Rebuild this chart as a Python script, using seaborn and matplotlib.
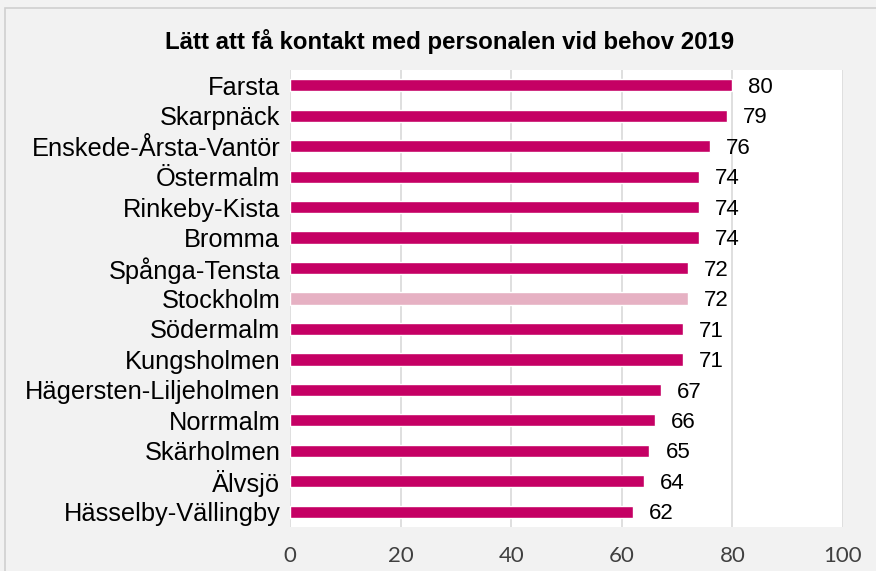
import matplotlib
matplotlib.use('Agg')
import matplotlib.pyplot as plt
import seaborn as sns
import pandas as pd
from matplotlib.patches import Rectangle

districts = ['Farsta', 'Skarpnäck', 'Enskede-Årsta-Vantör', 'Östermalm', 'Rinkeby-Kista',
             'Bromma', 'Spånga-Tensta', 'Stockholm', 'Södermalm', 'Kungsholmen',
             'Hägersten-Liljeholmen', 'Norrmalm', 'Skärholmen', 'Älvsjö', 'Hässelby-Vällingby']
values = [80, 79, 76, 74, 74, 74, 72, 72, 71, 71, 67, 66, 65, 64, 62]
highlight = 'Stockholm'

MAIN = '#c50064'
LIGHT = '#e6b1c3'

df = pd.DataFrame({'district': districts, 'value': values})
palette = {d: (LIGHT if d == highlight else MAIN) for d in districts}

sns.set_style('white')
plt.rcParams['font.family'] = ['Liberation Sans', 'DejaVu Sans']

fig = plt.figure(figsize=(8.76, 5.71), dpi=100, facecolor='#f2f2f2')
ax = fig.add_axes([290 / 876, 1 - 527 / 571, 553 / 876, 457 / 571])
ax.set_facecolor('white')

sns.barplot(data=df, x='value', y='district', hue='district', palette=palette,
            order=districts, width=0.4, legend=False, ax=ax, saturation=1)

for i, v in enumerate(values):
    ax.text(v + 2.9, i + 0.07, f'{v}', va='center', ha='left', fontsize=16, color='black')

ax.set_xlim(0, 100)
ax.set_xticks([0, 20, 40, 60, 80, 100])
ax.set_xticklabels(['0', '20', '40', '60', '80', '100'], fontsize=16, family='Lato', color='#404040')
ax.tick_params(axis='x', length=0, pad=14)
ax.tick_params(axis='y', length=0, labelsize=18.3, pad=7, labelcolor='black')
ax.grid(axis='x', color='#d9d9d9', linewidth=1.2)
ax.set_axisbelow(True)
for s in ax.spines.values():
    s.set_visible(False)
ax.set_xlabel('')
ax.set_ylabel('')

fig.text(450 / 876, 1 - 42 / 571, 'Lätt att få kontakt med personalen vid behov 2019',
         ha='center', va='center', fontsize=17.3, fontweight='bold', color='black')

fig.patches.append(Rectangle((5 / 876, -0.01), 1.0, 1 - 8 / 571 + 0.01, transform=fig.transFigure,
                             fill=False, edgecolor='#d0d0d0', linewidth=1.2, zorder=0))

fig.savefig('out.png', dpi=100, facecolor=fig.get_facecolor())
